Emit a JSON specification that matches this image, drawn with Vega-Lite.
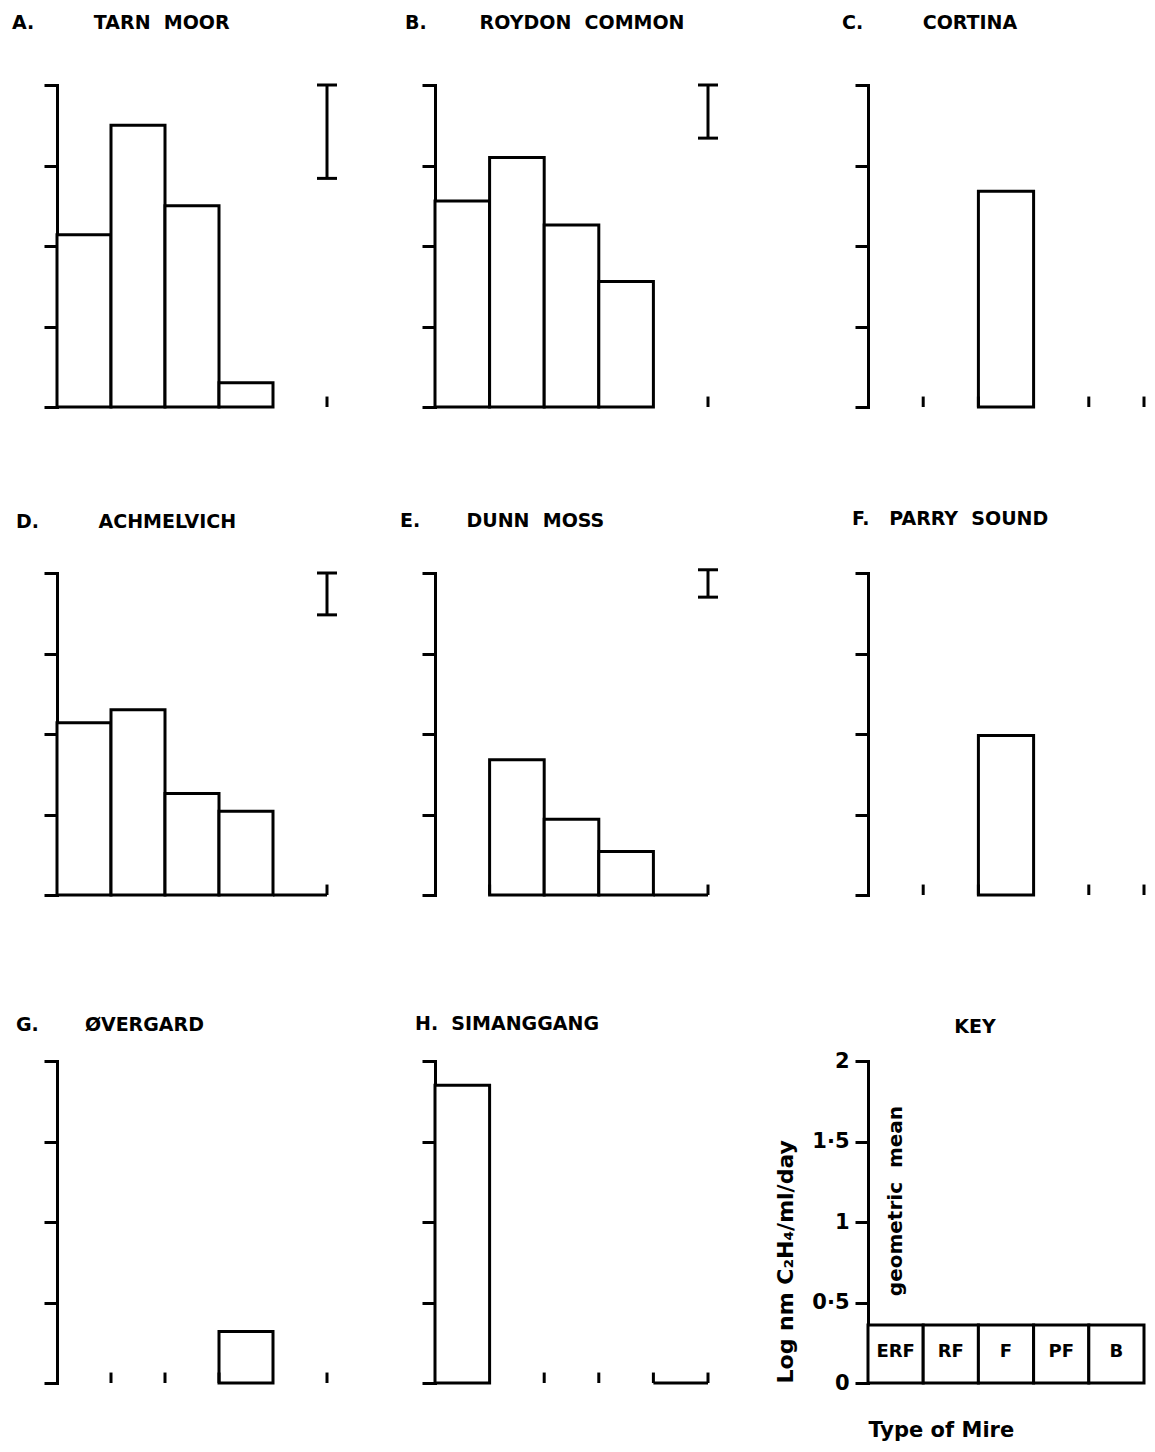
{
  "$schema": "https://vega.github.io/schema/vega-lite/v6.json",
  "background": "white",
  "padding": {"left": 12, "top": 13, "right": 5, "bottom": 5},
  "bounds": "flush",
  "align": "each",
  "columns": 3,
  "spacing": {"row": 166, "column": 108},
  "datasets": {
    "mires": [
      {"site": "Tarn Moor", "type": "ERF", "value": 1.07},
      {"site": "Tarn Moor", "type": "RF", "value": 1.75},
      {"site": "Tarn Moor", "type": "F", "value": 1.25},
      {"site": "Tarn Moor", "type": "PF", "value": 0.15},
      {"site": "Tarn Moor", "type": "B", "value": null, "errLo": 1.42, "errHi": 2.0},
      {"site": "Roydon Common", "type": "ERF", "value": 1.28},
      {"site": "Roydon Common", "type": "RF", "value": 1.55},
      {"site": "Roydon Common", "type": "F", "value": 1.13},
      {"site": "Roydon Common", "type": "PF", "value": 0.78},
      {"site": "Roydon Common", "type": "B", "value": null, "errLo": 1.67, "errHi": 2.0},
      {"site": "Cortina", "type": "ERF", "value": null},
      {"site": "Cortina", "type": "RF", "value": null},
      {"site": "Cortina", "type": "F", "value": 1.34},
      {"site": "Cortina", "type": "PF", "value": null},
      {"site": "Cortina", "type": "B", "value": null},
      {"site": "Achmelvich", "type": "ERF", "value": 1.07},
      {"site": "Achmelvich", "type": "RF", "value": 1.15},
      {"site": "Achmelvich", "type": "F", "value": 0.63},
      {"site": "Achmelvich", "type": "PF", "value": 0.52},
      {"site": "Achmelvich", "type": "B", "value": 0, "errLo": 1.74, "errHi": 2.0},
      {"site": "Dunn Moss", "type": "ERF", "value": null},
      {"site": "Dunn Moss", "type": "RF", "value": 0.84},
      {"site": "Dunn Moss", "type": "F", "value": 0.47},
      {"site": "Dunn Moss", "type": "PF", "value": 0.27},
      {"site": "Dunn Moss", "type": "B", "value": 0, "errLo": 1.85, "errHi": 2.02},
      {"site": "Parry Sound", "type": "ERF", "value": null},
      {"site": "Parry Sound", "type": "RF", "value": null},
      {"site": "Parry Sound", "type": "F", "value": 0.99},
      {"site": "Parry Sound", "type": "PF", "value": null},
      {"site": "Parry Sound", "type": "B", "value": null},
      {"site": "Øvergard", "type": "ERF", "value": null},
      {"site": "Øvergard", "type": "RF", "value": null},
      {"site": "Øvergard", "type": "F", "value": null},
      {"site": "Øvergard", "type": "PF", "value": 0.32},
      {"site": "Øvergard", "type": "B", "value": null},
      {"site": "Simanggang", "type": "ERF", "value": 1.85},
      {"site": "Simanggang", "type": "RF", "value": null},
      {"site": "Simanggang", "type": "F", "value": null},
      {"site": "Simanggang", "type": "PF", "value": null},
      {"site": "Simanggang", "type": "B", "value": 0},
      {"site": "KEY", "type": "ERF", "value": 0.36},
      {"site": "KEY", "type": "RF", "value": 0.36},
      {"site": "KEY", "type": "F", "value": 0.36},
      {"site": "KEY", "type": "PF", "value": 0.36},
      {"site": "KEY", "type": "B", "value": 0.36}
    ]
  },
  "concat": [
    {
      "width": 270, "height": 322,
      "title": {"text": "A.\u00a0\u00a0\u00a0\u00a0\u00a0\u00a0\u00a0\u00a0\u00a0TARN\u00a0\u00a0MOOR", "dx": -45, "offset": 51},
      "data": {"name": "mires"},
      "transform": [{"filter": "datum.site === 'Tarn Moor'"}],
      "resolve": {"axis": {"x": "independent", "y": "independent"}},
      "layer": [
        {"transform": [{"filter": "isValid(datum.value)"}],
         "mark": {"type": "bar", "fill": "white", "stroke": "black", "strokeWidth": 3},
         "encoding": {
           "x": {"field": "type", "type": "nominal", "scale": {"domain": ["ERF", "RF", "F", "PF", "B"], "paddingInner": 0, "paddingOuter": 0}, "axis": null},
           "y": {"field": "value", "type": "quantitative", "scale": {"domain": [0, 2], "nice": false}, "axis": {"title": null}}}},
        {"transform": [{"filter": "!isValid(datum.value) || datum.value === 0"}],
         "mark": {"type": "rule", "stroke": "black", "strokeWidth": 3},
         "encoding": {
           "x": {"field": "type", "type": "nominal", "bandPosition": 1, "scale": {"domain": ["ERF", "RF", "F", "PF", "B"], "paddingInner": 0, "paddingOuter": 0}, "axis": null},
           "y": {"datum": 0, "type": "quantitative", "axis": null}, "y2": {"datum": 0.065}}},
        {"transform": [{"filter": "isValid(datum.errHi)"}],
         "mark": {"type": "rule", "stroke": "black", "strokeWidth": 3},
         "encoding": {
           "x": {"field": "type", "type": "nominal", "bandPosition": 1, "scale": {"domain": ["ERF", "RF", "F", "PF", "B"], "paddingInner": 0, "paddingOuter": 0}, "axis": null},
           "y": {"field": "errLo", "type": "quantitative", "axis": null}, "y2": {"field": "errHi"}}},
        {"transform": [{"filter": "isValid(datum.errHi)"}],
         "mark": {"type": "rule", "stroke": "black", "strokeWidth": 3, "xOffset": -10, "x2Offset": 10},
         "encoding": {
           "x": {"field": "type", "type": "nominal", "bandPosition": 1, "scale": {"domain": ["ERF", "RF", "F", "PF", "B"], "paddingInner": 0, "paddingOuter": 0}, "axis": null},
           "x2": {"field": "type", "bandPosition": 1},
           "y": {"field": "errLo", "type": "quantitative", "axis": null}}},
        {"transform": [{"filter": "isValid(datum.errHi)"}],
         "mark": {"type": "rule", "stroke": "black", "strokeWidth": 3, "xOffset": -10, "x2Offset": 10},
         "encoding": {
           "x": {"field": "type", "type": "nominal", "bandPosition": 1, "scale": {"domain": ["ERF", "RF", "F", "PF", "B"], "paddingInner": 0, "paddingOuter": 0}, "axis": null},
           "x2": {"field": "type", "bandPosition": 1},
           "y": {"field": "errHi", "type": "quantitative", "axis": null}}}
      ]
    },
    {
      "width": 325, "height": 322,
      "title": {"text": "B.\u00a0\u00a0\u00a0\u00a0\u00a0\u00a0\u00a0\u00a0ROYDON\u00a0\u00a0COMMON", "dx": -30, "offset": 51},
      "data": {"name": "mires"},
      "transform": [{"filter": "datum.site === 'Roydon Common'"}],
      "resolve": {"axis": {"x": "independent", "y": "independent"}},
      "layer": [
        {"transform": [{"filter": "isValid(datum.value)"}],
         "mark": {"type": "bar", "fill": "white", "stroke": "black", "strokeWidth": 3},
         "encoding": {
           "x": {"field": "type", "type": "nominal", "scale": {"domain": ["ERF", "RF", "F", "PF", "B"], "range": [0, 273], "paddingInner": 0, "paddingOuter": 0}, "axis": null},
           "y": {"field": "value", "type": "quantitative", "scale": {"domain": [0, 2], "nice": false}, "axis": {"title": null}}}},
        {"transform": [{"filter": "!isValid(datum.value) || datum.value === 0"}],
         "mark": {"type": "rule", "stroke": "black", "strokeWidth": 3},
         "encoding": {
           "x": {"field": "type", "type": "nominal", "bandPosition": 1, "scale": {"domain": ["ERF", "RF", "F", "PF", "B"], "range": [0, 273], "paddingInner": 0, "paddingOuter": 0}, "axis": null},
           "y": {"datum": 0, "type": "quantitative", "axis": null}, "y2": {"datum": 0.065}}},
        {"transform": [{"filter": "isValid(datum.errHi)"}],
         "mark": {"type": "rule", "stroke": "black", "strokeWidth": 3},
         "encoding": {
           "x": {"field": "type", "type": "nominal", "bandPosition": 1, "scale": {"domain": ["ERF", "RF", "F", "PF", "B"], "range": [0, 273], "paddingInner": 0, "paddingOuter": 0}, "axis": null},
           "y": {"field": "errLo", "type": "quantitative", "axis": null}, "y2": {"field": "errHi"}}},
        {"transform": [{"filter": "isValid(datum.errHi)"}],
         "mark": {"type": "rule", "stroke": "black", "strokeWidth": 3, "xOffset": -10, "x2Offset": 10},
         "encoding": {
           "x": {"field": "type", "type": "nominal", "bandPosition": 1, "scale": {"domain": ["ERF", "RF", "F", "PF", "B"], "range": [0, 273], "paddingInner": 0, "paddingOuter": 0}, "axis": null},
           "x2": {"field": "type", "bandPosition": 1},
           "y": {"field": "errLo", "type": "quantitative", "axis": null}}},
        {"transform": [{"filter": "isValid(datum.errHi)"}],
         "mark": {"type": "rule", "stroke": "black", "strokeWidth": 3, "xOffset": -10, "x2Offset": 10},
         "encoding": {
           "x": {"field": "type", "type": "nominal", "bandPosition": 1, "scale": {"domain": ["ERF", "RF", "F", "PF", "B"], "range": [0, 273], "paddingInner": 0, "paddingOuter": 0}, "axis": null},
           "x2": {"field": "type", "bandPosition": 1},
           "y": {"field": "errHi", "type": "quantitative", "axis": null}}}
      ]
    },
    {
      "width": 276, "height": 322,
      "title": {"text": "C.\u00a0\u00a0\u00a0\u00a0\u00a0\u00a0\u00a0\u00a0\u00a0CORTINA", "dx": -26, "offset": 51},
      "data": {"name": "mires"},
      "transform": [{"filter": "datum.site === 'Cortina'"}],
      "resolve": {"axis": {"x": "independent", "y": "independent"}},
      "layer": [
        {"transform": [{"filter": "isValid(datum.value)"}],
         "mark": {"type": "bar", "fill": "white", "stroke": "black", "strokeWidth": 3},
         "encoding": {
           "x": {"field": "type", "type": "nominal", "scale": {"domain": ["ERF", "RF", "F", "PF", "B"], "paddingInner": 0, "paddingOuter": 0}, "axis": null},
           "y": {"field": "value", "type": "quantitative", "scale": {"domain": [0, 2], "nice": false}, "axis": {"title": null}}}},
        {"transform": [{"filter": "!isValid(datum.value) || datum.value === 0"}],
         "mark": {"type": "rule", "stroke": "black", "strokeWidth": 3},
         "encoding": {
           "x": {"field": "type", "type": "nominal", "bandPosition": 1, "scale": {"domain": ["ERF", "RF", "F", "PF", "B"], "paddingInner": 0, "paddingOuter": 0}, "axis": null},
           "y": {"datum": 0, "type": "quantitative", "axis": null}, "y2": {"datum": 0.065}}}
      ]
    },
    {
      "width": 270, "height": 322,
      "title": {"text": "D.\u00a0\u00a0\u00a0\u00a0\u00a0\u00a0\u00a0\u00a0\u00a0ACHMELVICH", "dx": -41, "offset": 40},
      "data": {"name": "mires"},
      "transform": [{"filter": "datum.site === 'Achmelvich'"}],
      "resolve": {"axis": {"x": "independent", "y": "independent"}},
      "layer": [
        {"transform": [{"filter": "isValid(datum.value)"}],
         "mark": {"type": "bar", "fill": "white", "stroke": "black", "strokeWidth": 3},
         "encoding": {
           "x": {"field": "type", "type": "nominal", "scale": {"domain": ["ERF", "RF", "F", "PF", "B"], "paddingInner": 0, "paddingOuter": 0}, "axis": null},
           "y": {"field": "value", "type": "quantitative", "scale": {"domain": [0, 2], "nice": false}, "axis": {"title": null}}}},
        {"transform": [{"filter": "!isValid(datum.value) || datum.value === 0"}],
         "mark": {"type": "rule", "stroke": "black", "strokeWidth": 3},
         "encoding": {
           "x": {"field": "type", "type": "nominal", "bandPosition": 1, "scale": {"domain": ["ERF", "RF", "F", "PF", "B"], "paddingInner": 0, "paddingOuter": 0}, "axis": null},
           "y": {"datum": 0, "type": "quantitative", "axis": null}, "y2": {"datum": 0.065}}},
        {"transform": [{"filter": "isValid(datum.errHi)"}],
         "mark": {"type": "rule", "stroke": "black", "strokeWidth": 3},
         "encoding": {
           "x": {"field": "type", "type": "nominal", "bandPosition": 1, "scale": {"domain": ["ERF", "RF", "F", "PF", "B"], "paddingInner": 0, "paddingOuter": 0}, "axis": null},
           "y": {"field": "errLo", "type": "quantitative", "axis": null}, "y2": {"field": "errHi"}}},
        {"transform": [{"filter": "isValid(datum.errHi)"}],
         "mark": {"type": "rule", "stroke": "black", "strokeWidth": 3, "xOffset": -10, "x2Offset": 10},
         "encoding": {
           "x": {"field": "type", "type": "nominal", "bandPosition": 1, "scale": {"domain": ["ERF", "RF", "F", "PF", "B"], "paddingInner": 0, "paddingOuter": 0}, "axis": null},
           "x2": {"field": "type", "bandPosition": 1},
           "y": {"field": "errLo", "type": "quantitative", "axis": null}}},
        {"transform": [{"filter": "isValid(datum.errHi)"}],
         "mark": {"type": "rule", "stroke": "black", "strokeWidth": 3, "xOffset": -10, "x2Offset": 10},
         "encoding": {
           "x": {"field": "type", "type": "nominal", "bandPosition": 1, "scale": {"domain": ["ERF", "RF", "F", "PF", "B"], "paddingInner": 0, "paddingOuter": 0}, "axis": null},
           "x2": {"field": "type", "bandPosition": 1},
           "y": {"field": "errHi", "type": "quantitative", "axis": null}}}
      ]
    },
    {
      "width": 325, "height": 322,
      "title": {"text": "E.\u00a0\u00a0\u00a0\u00a0\u00a0\u00a0\u00a0DUNN\u00a0\u00a0MOSS", "dx": -35, "offset": 37},
      "data": {"name": "mires"},
      "transform": [{"filter": "datum.site === 'Dunn Moss'"}],
      "resolve": {"axis": {"x": "independent", "y": "independent"}},
      "layer": [
        {"transform": [{"filter": "isValid(datum.value)"}],
         "mark": {"type": "bar", "fill": "white", "stroke": "black", "strokeWidth": 3},
         "encoding": {
           "x": {"field": "type", "type": "nominal", "scale": {"domain": ["ERF", "RF", "F", "PF", "B"], "range": [0, 273], "paddingInner": 0, "paddingOuter": 0}, "axis": null},
           "y": {"field": "value", "type": "quantitative", "scale": {"domain": [0, 2], "nice": false}, "axis": {"title": null}}}},
        {"transform": [{"filter": "!isValid(datum.value) || datum.value === 0"}],
         "mark": {"type": "rule", "stroke": "black", "strokeWidth": 3},
         "encoding": {
           "x": {"field": "type", "type": "nominal", "bandPosition": 1, "scale": {"domain": ["ERF", "RF", "F", "PF", "B"], "range": [0, 273], "paddingInner": 0, "paddingOuter": 0}, "axis": null},
           "y": {"datum": 0, "type": "quantitative", "axis": null}, "y2": {"datum": 0.065}}},
        {"transform": [{"filter": "isValid(datum.errHi)"}],
         "mark": {"type": "rule", "stroke": "black", "strokeWidth": 3},
         "encoding": {
           "x": {"field": "type", "type": "nominal", "bandPosition": 1, "scale": {"domain": ["ERF", "RF", "F", "PF", "B"], "range": [0, 273], "paddingInner": 0, "paddingOuter": 0}, "axis": null},
           "y": {"field": "errLo", "type": "quantitative", "axis": null}, "y2": {"field": "errHi"}}},
        {"transform": [{"filter": "isValid(datum.errHi)"}],
         "mark": {"type": "rule", "stroke": "black", "strokeWidth": 3, "xOffset": -10, "x2Offset": 10},
         "encoding": {
           "x": {"field": "type", "type": "nominal", "bandPosition": 1, "scale": {"domain": ["ERF", "RF", "F", "PF", "B"], "range": [0, 273], "paddingInner": 0, "paddingOuter": 0}, "axis": null},
           "x2": {"field": "type", "bandPosition": 1},
           "y": {"field": "errLo", "type": "quantitative", "axis": null}}},
        {"transform": [{"filter": "isValid(datum.errHi)"}],
         "mark": {"type": "rule", "stroke": "black", "strokeWidth": 3, "xOffset": -10, "x2Offset": 10},
         "encoding": {
           "x": {"field": "type", "type": "nominal", "bandPosition": 1, "scale": {"domain": ["ERF", "RF", "F", "PF", "B"], "range": [0, 273], "paddingInner": 0, "paddingOuter": 0}, "axis": null},
           "x2": {"field": "type", "bandPosition": 1},
           "y": {"field": "errHi", "type": "quantitative", "axis": null}}}
      ]
    },
    {
      "width": 276, "height": 322,
      "title": {"text": "F.\u00a0\u00a0\u00a0PARRY\u00a0\u00a0SOUND", "dx": -16, "offset": 43},
      "data": {"name": "mires"},
      "transform": [{"filter": "datum.site === 'Parry Sound'"}],
      "resolve": {"axis": {"x": "independent", "y": "independent"}},
      "layer": [
        {"transform": [{"filter": "isValid(datum.value)"}],
         "mark": {"type": "bar", "fill": "white", "stroke": "black", "strokeWidth": 3},
         "encoding": {
           "x": {"field": "type", "type": "nominal", "scale": {"domain": ["ERF", "RF", "F", "PF", "B"], "paddingInner": 0, "paddingOuter": 0}, "axis": null},
           "y": {"field": "value", "type": "quantitative", "scale": {"domain": [0, 2], "nice": false}, "axis": {"title": null}}}},
        {"transform": [{"filter": "!isValid(datum.value) || datum.value === 0"}],
         "mark": {"type": "rule", "stroke": "black", "strokeWidth": 3},
         "encoding": {
           "x": {"field": "type", "type": "nominal", "bandPosition": 1, "scale": {"domain": ["ERF", "RF", "F", "PF", "B"], "paddingInner": 0, "paddingOuter": 0}, "axis": null},
           "y": {"datum": 0, "type": "quantitative", "axis": null}, "y2": {"datum": 0.065}}}
      ]
    },
    {
      "width": 270, "height": 322,
      "title": {"text": "G.\u00a0\u00a0\u00a0\u00a0\u00a0\u00a0\u00a0ØVERGARD", "dx": -41, "offset": 25},
      "data": {"name": "mires"},
      "transform": [{"filter": "datum.site === 'Øvergard'"}],
      "resolve": {"axis": {"x": "independent", "y": "independent"}},
      "layer": [
        {"transform": [{"filter": "isValid(datum.value)"}],
         "mark": {"type": "bar", "fill": "white", "stroke": "black", "strokeWidth": 3},
         "encoding": {
           "x": {"field": "type", "type": "nominal", "scale": {"domain": ["ERF", "RF", "F", "PF", "B"], "paddingInner": 0, "paddingOuter": 0}, "axis": null},
           "y": {"field": "value", "type": "quantitative", "scale": {"domain": [0, 2], "nice": false}, "axis": {"title": null}}}},
        {"transform": [{"filter": "!isValid(datum.value) || datum.value === 0"}],
         "mark": {"type": "rule", "stroke": "black", "strokeWidth": 3},
         "encoding": {
           "x": {"field": "type", "type": "nominal", "bandPosition": 1, "scale": {"domain": ["ERF", "RF", "F", "PF", "B"], "paddingInner": 0, "paddingOuter": 0}, "axis": null},
           "y": {"datum": 0, "type": "quantitative", "axis": null}, "y2": {"datum": 0.065}}}
      ]
    },
    {
      "width": 325, "height": 322,
      "title": {"text": "H.\u00a0\u00a0SIMANGGANG", "dx": -20, "offset": 26},
      "data": {"name": "mires"},
      "transform": [{"filter": "datum.site === 'Simanggang'"}],
      "resolve": {"axis": {"x": "independent", "y": "independent"}},
      "layer": [
        {"transform": [{"filter": "isValid(datum.value)"}],
         "mark": {"type": "bar", "fill": "white", "stroke": "black", "strokeWidth": 3},
         "encoding": {
           "x": {"field": "type", "type": "nominal", "scale": {"domain": ["ERF", "RF", "F", "PF", "B"], "range": [0, 273], "paddingInner": 0, "paddingOuter": 0}, "axis": null},
           "y": {"field": "value", "type": "quantitative", "scale": {"domain": [0, 2], "nice": false}, "axis": {"title": null}}}},
        {"transform": [{"filter": "!isValid(datum.value) || datum.value === 0"}],
         "mark": {"type": "rule", "stroke": "black", "strokeWidth": 3},
         "encoding": {
           "x": {"field": "type", "type": "nominal", "bandPosition": 1, "scale": {"domain": ["ERF", "RF", "F", "PF", "B"], "range": [0, 273], "paddingInner": 0, "paddingOuter": 0}, "axis": null},
           "y": {"datum": 0, "type": "quantitative", "axis": null}, "y2": {"datum": 0.065}}}
      ]
    },
    {
      "width": 276, "height": 322,
      "title": {"text": "KEY", "anchor": "middle", "dx": -31, "offset": 13},
      "resolve": {"axis": {"x": "independent", "y": "independent"}},
      "layer": [
        {"data": {"name": "mires"},
         "transform": [{"filter": "datum.site === 'KEY'"}],
         "mark": {"type": "bar", "fill": "white", "stroke": "black", "strokeWidth": 3},
         "encoding": {
           "x": {"field": "type", "type": "nominal", "scale": {"domain": ["ERF", "RF", "F", "PF", "B"], "paddingInner": 0, "paddingOuter": 0},
                 "axis": {"title": "Type of Mire", "labels": false, "ticks": false, "domain": false, "titlePadding": 36, "titleAnchor": "start", "titleFontSize": 21}},
           "y": {"field": "value", "type": "quantitative", "scale": {"domain": [0, 2], "nice": false},
                 "axis": {"title": "Log nm C₂H₄/ml/day", "labels": true, "labelExpr": "replace(format(datum.value, '~g'), '.', '·')", "labelPadding": 6, "labelFontSize": 21, "titlePadding": 14, "titleAnchor": "start", "titleFontSize": 22}}}},
        {"data": {"name": "mires"},
         "transform": [{"filter": "datum.site === 'KEY'"}],
         "mark": {"type": "text", "font": "DejaVu Sans", "fontWeight": "bold", "fontSize": 18, "color": "black", "baseline": "middle", "align": "center"},
         "encoding": {
           "x": {"field": "type", "type": "nominal", "scale": {"domain": ["ERF", "RF", "F", "PF", "B"], "paddingInner": 0, "paddingOuter": 0}, "axis": null},
           "y": {"datum": 0.19, "type": "quantitative", "axis": null},
           "text": {"field": "type"}}},
        {"data": {"values": [{"type": "ERF", "note": "geometric\u00a0\u00a0mean"}]},
         "mark": {"type": "text", "angle": 270, "font": "DejaVu Sans", "fontWeight": "bold", "fontSize": 20, "color": "black", "baseline": "middle", "align": "center"},
         "encoding": {
           "x": {"field": "type", "type": "nominal", "scale": {"domain": ["ERF", "RF", "F", "PF", "B"], "paddingInner": 0, "paddingOuter": 0}, "axis": null},
           "y": {"datum": 1.13, "type": "quantitative", "axis": null},
           "text": {"field": "note"}}}
      ]
    }
  ],
  "config": {
    "view": {"stroke": null},
    "axis": {
      "domainColor": "black", "domainWidth": 3, "domainCap": "square",
      "tickColor": "black", "tickWidth": 3, "tickSize": 13, "tickCount": 4,
      "grid": false, "labels": false,
      "labelFont": "DejaVu Sans", "labelFontWeight": "bold", "labelFontSize": 18, "labelColor": "black",
      "titleFont": "DejaVu Sans", "titleFontWeight": "bold", "titleFontSize": 19, "titleColor": "black"
    },
    "title": {"anchor": "start", "frame": "group", "font": "DejaVu Sans", "fontWeight": "bold", "fontSize": 19, "color": "black", "baseline": "alphabetic"}
  }
}
